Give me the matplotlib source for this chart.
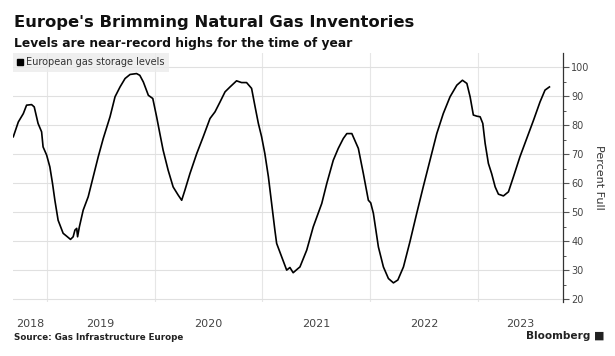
import matplotlib
matplotlib.use("Agg")
import matplotlib.pyplot as plt
import matplotlib.dates as mdates
from matplotlib.lines import Line2D
import pandas as pd

# European gas storage, percent full
dates = [
    "2018-09-09", "2018-09-26", "2018-10-13", "2018-10-24", "2018-11-10", "2018-11-19",
    "2018-12-02", "2018-12-14", "2018-12-19", "2018-12-31", "2019-01-11", "2019-01-20",
    "2019-01-28", "2019-02-08", "2019-02-25", "2019-03-09", "2019-03-22", "2019-03-31",
    "2019-04-06", "2019-04-12", "2019-04-15", "2019-04-21", "2019-05-04", "2019-05-21",
    "2019-06-07", "2019-06-24", "2019-07-11", "2019-08-03", "2019-08-20", "2019-09-06",
    "2019-09-23", "2019-10-10", "2019-11-01", "2019-11-12", "2019-11-24", "2019-12-11",
    "2019-12-26", "2020-01-08", "2020-01-19", "2020-01-30", "2020-02-16", "2020-03-04",
    "2020-03-21", "2020-04-02", "2020-04-13", "2020-04-30", "2020-05-23", "2020-06-14",
    "2020-07-07", "2020-07-24", "2020-08-10", "2020-08-27", "2020-09-13", "2020-10-05",
    "2020-10-22", "2020-11-08", "2020-11-25", "2020-12-07", "2020-12-18", "2020-12-29",
    "2021-01-09", "2021-01-21", "2021-02-01", "2021-02-12", "2021-02-18", "2021-03-07",
    "2021-03-24", "2021-04-04", "2021-04-15", "2021-05-02", "2021-05-08", "2021-05-31",
    "2021-06-22", "2021-07-21", "2021-08-07", "2021-08-29", "2021-09-15", "2021-10-02",
    "2021-10-14", "2021-10-31", "2021-11-22", "2021-12-09", "2021-12-26", "2022-01-03",
    "2022-01-12", "2022-01-29", "2022-02-15", "2022-03-04", "2022-03-21", "2022-04-05",
    "2022-04-24", "2022-05-16", "2022-06-08", "2022-06-30", "2022-07-23", "2022-08-15",
    "2022-09-06", "2022-09-29", "2022-10-22", "2022-11-10", "2022-11-25", "2022-12-06",
    "2022-12-17", "2022-12-29", "2023-01-09", "2023-01-18", "2023-01-26", "2023-02-06",
    "2023-02-17", "2023-03-01", "2023-03-12", "2023-03-29", "2023-04-15", "2023-05-02",
    "2023-05-24", "2023-06-16", "2023-07-09", "2023-07-31", "2023-08-17", "2023-09-01",
]
storage = [
    76.1, 81.2, 84.1, 87.0, 87.2, 86.4,
    80.7, 77.8, 72.6, 69.8, 65.7, 60.0,
    54.2, 47.3, 42.8, 41.8, 40.7, 41.6,
    43.9, 44.5, 41.6, 45.0, 50.8, 55.4,
    62.3, 69.2, 75.5, 83.0, 89.9, 93.3,
    96.2, 97.6, 97.9, 97.3, 95.0, 90.4,
    89.3, 83.0, 77.2, 71.5, 64.6, 58.8,
    56.0, 54.2, 57.7, 63.4, 70.3, 76.1,
    82.4, 84.7, 88.1, 91.6, 93.3, 95.4,
    94.8, 94.8, 92.8, 86.4, 80.7, 76.1,
    70.3, 62.3, 53.1, 43.9, 39.3, 34.7,
    30.1, 31.0, 29.2, 30.7, 31.2, 37.0,
    45.0, 53.1, 60.0, 68.0, 72.1, 75.5,
    77.2, 77.2, 72.1, 63.4, 54.2, 53.3,
    49.7, 38.1, 31.2, 27.2, 25.7, 26.7,
    31.2, 39.9, 49.7, 58.8, 68.0, 77.2,
    84.1, 89.9, 93.9, 95.6, 94.5, 89.9,
    83.6, 83.2, 83.0, 80.7, 73.8, 66.9,
    63.4, 58.8, 56.3, 55.7, 57.1, 62.3,
    69.2, 75.5, 81.8, 88.1, 92.2, 93.3,
]
years = [2018, 2019, 2020, 2021, 2022, 2023]
y_ticks = [20, 30, 40, 50, 60, 70, 80, 90, 100]

title = "Europe's Brimming Natural Gas Inventories"
subtitle = "Levels are near-record highs for the time of year"
series_name = "European gas storage levels"
source = "Source: Gas Infrastructure Europe"

plt.rcParams["font.family"] = ["DejaVu Sans"]

x = mdates.date2num(pd.to_datetime(dates).to_pydatetime())
x_left = mdates.date2num(pd.Timestamp("2018-09-08"))
x_right = mdates.date2num(pd.Timestamp("2023-10-17"))

fig = plt.figure(figsize=(6.15, 3.56), dpi=100)
ax = fig.add_axes([13 / 615, 1 - 302 / 356, 550 / 615, 249 / 356])

ax.plot(x, storage, color="black", linewidth=1.2, solid_joinstyle="round")

ax.set_xlim(x_left, x_right)
ax.set_ylim(19.1, 105)

# year boundaries as gridlines, year labels centred on visible part of each year
starts = [mdates.date2num(pd.Timestamp(f"{y}-01-01")) for y in years[1:]]
ax.set_xticks(starts)
ax.set_xticklabels([])
centers = []
for y in years:
    a = max(mdates.date2num(pd.Timestamp(f"{y}-01-01")), x_left)
    b = min(mdates.date2num(pd.Timestamp(f"{y + 1}-01-01")), x_right)
    centers.append((a + b) / 2)
ax.set_xticks(centers, minor=True)
ax.set_xticklabels([str(y) for y in years], minor=True)
ax.tick_params(axis="x", which="both", length=0, pad=12, labelsize=8, labelcolor="#444444")
ax.grid(axis="x", which="major", color="#e6e6e6", linewidth=0.8)

ax.yaxis.tick_right()
ax.set_yticks(y_ticks)
ax.set_yticks(range(25, 100, 10), minor=True)
ax.tick_params(axis="y", which="major", direction="out", length=4, width=0.8,
               color="#555555", labelsize=7, labelcolor="#444444", pad=2)
ax.tick_params(axis="y", which="minor", direction="out", length=2.5, width=0.7, color="#555555")
ax.grid(axis="y", which="major", color="#e0e0e0", linewidth=0.8)
ax.set_axisbelow(True)

ax.set_ylabel("Percent Full", rotation=270, fontsize=8, color="#333333", va="center")
ax.yaxis.set_label_position("right")
ax.yaxis.set_label_coords(1.075, 0.5)

for side in ("left", "top", "bottom"):
    ax.spines[side].set_visible(False)
ax.spines["right"].set_color("#333333")
ax.spines["right"].set_linewidth(0.9)

handle = Line2D([], [], marker="s", linestyle="none", color="black", markersize=5)
leg = ax.legend([handle], [series_name], loc="upper left", bbox_to_anchor=(0, 1),
                borderaxespad=0, frameon=True, fontsize=7, handlelength=0.6,
                handletextpad=0.3, borderpad=0.45, fancybox=False)
leg.get_frame().set_facecolor("#ececec")
leg.get_frame().set_edgecolor("none")
for t in leg.get_texts():
    t.set_color("#333333")

fig.text(14 / 615, 1 - 22 / 356, title, fontsize=11.8, fontweight="bold", va="center", color="#111111")
fig.text(14 / 615, 1 - 43 / 356, subtitle, fontsize=8.8, fontweight="bold", va="center", color="#111111")
fig.text(14 / 615, 1 - 338 / 356, source, fontsize=6.3, fontweight="bold", va="center", color="#222222")
fig.text(590 / 615, 1 - 336 / 356, "Bloomberg", fontsize=7.6, fontweight="bold", va="center",
         ha="right", color="#222222")
fig.text(599 / 615, 1 - 336 / 356, "\u25a0", fontsize=8, va="center", ha="center", color="#222222")

fig.savefig("out.png", dpi=100)
